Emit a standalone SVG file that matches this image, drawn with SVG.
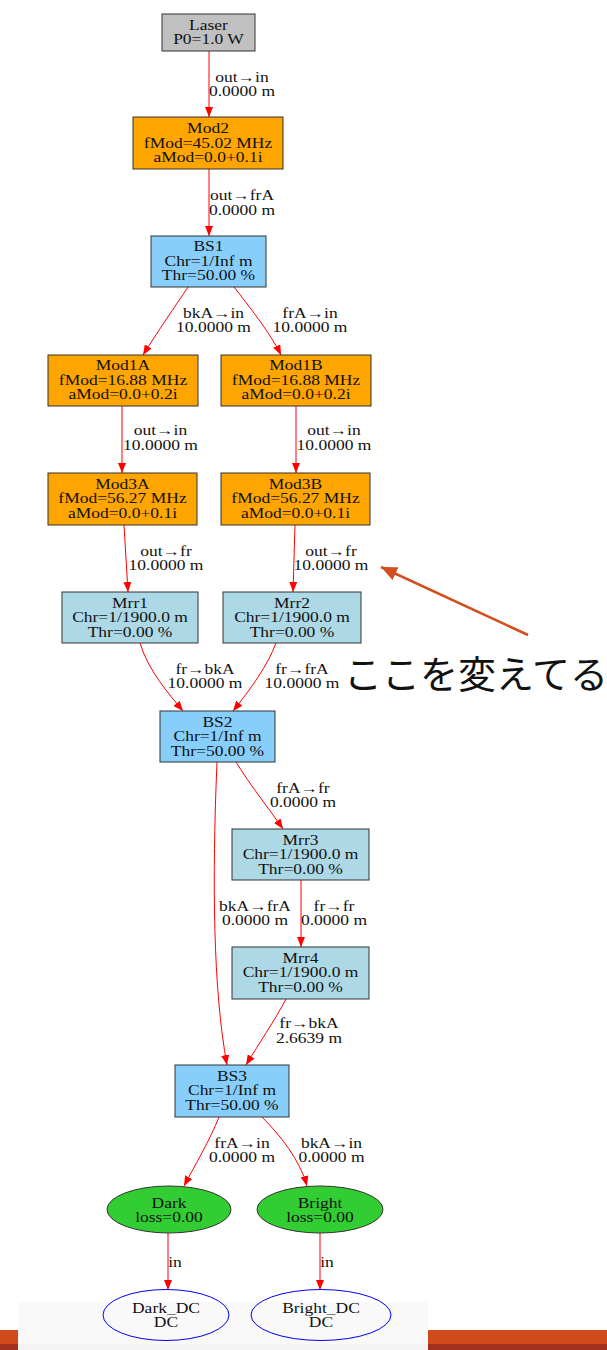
<svg xmlns="http://www.w3.org/2000/svg" width="607" height="1350" viewBox="0 0 607 1350">
<style>
.t{font-family:"Liberation Serif","Times New Roman",serif;font-size:14px;fill:#111;text-anchor:middle}
.box{stroke:#333;stroke-width:1}
.gray{fill:#c0c0c0}.orange{fill:#ffa500}.sky{fill:#87cefa}.lb{fill:#add8e6}.green{fill:#32cd32}
.edge{fill:none;stroke:#ff0000;stroke-width:1;marker-end:url(#ah)}
</style>
<defs>
<marker id="ah" viewBox="0 0 10 8" refX="10" refY="4" markerWidth="10" markerHeight="8" markerUnits="userSpaceOnUse" orient="auto"><path d="M0,0 L10,4 L0,8 z" fill="#ff0000"/></marker>
<marker id="ah2" viewBox="0 0 16 14" refX="16" refY="7" markerWidth="16" markerHeight="14" markerUnits="userSpaceOnUse" orient="auto"><path d="M0,0 L16,7 L0,14 z" fill="#d2501e"/></marker>
</defs>
<rect width="607" height="1350" fill="#ffffff"/>
<g id="slide-bar">
<rect x="0" y="1330" width="607" height="14" fill="#d14a1b"/>
<rect x="0" y="1344" width="607" height="6" fill="#a3301f"/>
<rect x="18" y="1302" width="410" height="42" fill="#f9f9f9"/>
<rect x="18" y="1344" width="410" height="6" fill="#f3f3f3"/>
</g>
<g id="connectors">
<path class="edge" d="M209,51 L209,117"/>
<path class="edge" d="M209,169 L209,236"/>
<path class="edge" d="M188,287 C176,305 156,334 143,355"/>
<path class="edge" d="M234,287 C248,305 271,334 281,355"/>
<path class="edge" d="M122,406 L122,473"/>
<path class="edge" d="M296,406 L296,473"/>
<path class="edge" d="M124,525 L128,592"/>
<path class="edge" d="M295,525 L293,592"/>
<path class="edge" d="M140,643 C148,670 168,693 183,711"/>
<path class="edge" d="M276,643 C268,665 250,690 233,711"/>
<path class="edge" d="M236,762 C250,785 270,810 283,829"/>
<path class="edge" d="M217,762 C212,880 213,990 227,1065"/>
<path class="edge" d="M301,880 L301,947"/>
<path class="edge" d="M286,999 C275,1020 258,1045 246,1065"/>
<path class="edge" d="M219,1117 C210,1140 195,1165 184,1186"/>
<path class="edge" d="M262,1117 C280,1135 300,1160 307,1186"/>
<path class="edge" d="M168,1233 L168,1290"/>
<path class="edge" d="M320,1233 L320,1290"/>
</g>
<g id="edge-labels" transform="scale(1.25,1)">
<text class="t" x="193.6" y="82">out→in</text><text class="t" x="193.6" y="96.5">0.0000 m</text>
<text class="t" x="193.6" y="200">out→frA</text><text class="t" x="193.6" y="215">0.0000 m</text>
<text class="t" x="170.8" y="318">bkA→in</text><text class="t" x="170.8" y="332">10.0000 m</text>
<text class="t" x="248" y="318">frA→in</text><text class="t" x="248" y="332">10.0000 m</text>
<text class="t" x="128.4" y="435">out→in</text><text class="t" x="128.4" y="450">10.0000 m</text>
<text class="t" x="267.2" y="435">out→in</text><text class="t" x="267.2" y="450">10.0000 m</text>
<text class="t" x="132.8" y="556">out→fr</text><text class="t" x="132.8" y="570">10.0000 m</text>
<text class="t" x="264.8" y="556">out→fr</text><text class="t" x="264.8" y="570">10.0000 m</text>
<text class="t" x="164" y="674">fr→bkA</text><text class="t" x="164" y="688">10.0000 m</text>
<text class="t" x="241.6" y="674">fr→frA</text><text class="t" x="241.6" y="688">10.0000 m</text>
<text class="t" x="242.4" y="793">frA→fr</text><text class="t" x="242.4" y="807">0.0000 m</text>
<text class="t" x="204" y="911">bkA→frA</text><text class="t" x="204" y="925">0.0000 m</text>
<text class="t" x="267.2" y="911">fr→fr</text><text class="t" x="267.2" y="925">0.0000 m</text>
<text class="t" x="247.2" y="1028">fr→bkA</text><text class="t" x="247.2" y="1043">2.6639 m</text>
<text class="t" x="193.6" y="1148">frA→in</text><text class="t" x="193.6" y="1162">0.0000 m</text>
<text class="t" x="265.2" y="1148">bkA→in</text><text class="t" x="265.2" y="1162">0.0000 m</text>
<text class="t" x="140" y="1267">in</text>
<text class="t" x="261.6" y="1267">in</text>
</g>
<g id="Laser"><rect class="box gray" x="162" y="14" width="93" height="37"/>
<g transform="scale(1.25,1)"><text class="t" x="166.8" y="30">Laser</text><text class="t" x="166.8" y="44">P0=1.0 W</text></g></g>
<g id="Mod2"><rect class="box orange" x="133" y="117" width="150" height="52"/>
<g transform="scale(1.25,1)"><text class="t" x="166.4" y="133">Mod2</text><text class="t" x="166.4" y="148">fMod=45.02 MHz</text><text class="t" x="166.4" y="162">aMod=0.0+0.1i</text></g></g>
<g id="BS1"><rect class="box sky" x="151" y="236" width="115" height="51"/>
<g transform="scale(1.25,1)"><text class="t" x="166.8" y="251.5">BS1</text><text class="t" x="166.8" y="266">Chr=1/Inf m</text><text class="t" x="166.8" y="280.5">Thr=50.00 %</text></g></g>
<g id="Mod1A"><rect class="box orange" x="48" y="355" width="150" height="51"/>
<g transform="scale(1.25,1)"><text class="t" x="98.4" y="370.5">Mod1A</text><text class="t" x="98.4" y="385">fMod=16.88 MHz</text><text class="t" x="98.4" y="399.5">aMod=0.0+0.2i</text></g></g>
<g id="Mod1B"><rect class="box orange" x="221" y="355" width="150" height="51"/>
<g transform="scale(1.25,1)"><text class="t" x="236.8" y="370.5">Mod1B</text><text class="t" x="236.8" y="385">fMod=16.88 MHz</text><text class="t" x="236.8" y="399.5">aMod=0.0+0.2i</text></g></g>
<g id="Mod3A"><rect class="box orange" x="48" y="473" width="149" height="52"/>
<g transform="scale(1.25,1)"><text class="t" x="98" y="489">Mod3A</text><text class="t" x="98" y="503.5">fMod=56.27 MHz</text><text class="t" x="98" y="518">aMod=0.0+0.1i</text></g></g>
<g id="Mod3B"><rect class="box orange" x="221" y="473" width="149" height="52"/>
<g transform="scale(1.25,1)"><text class="t" x="236.4" y="489">Mod3B</text><text class="t" x="236.4" y="503.5">fMod=56.27 MHz</text><text class="t" x="236.4" y="518">aMod=0.0+0.1i</text></g></g>
<g id="Mrr1"><rect class="box lb" x="62" y="592" width="136" height="51"/>
<g transform="scale(1.25,1)"><text class="t" x="104" y="608">Mrr1</text><text class="t" x="104" y="622.5">Chr=1/1900.0 m</text><text class="t" x="104" y="637">Thr=0.00 %</text></g></g>
<g id="Mrr2"><rect class="box lb" x="223" y="592" width="138" height="51"/>
<g transform="scale(1.25,1)"><text class="t" x="233.6" y="608">Mrr2</text><text class="t" x="233.6" y="622.5">Chr=1/1900.0 m</text><text class="t" x="233.6" y="637">Thr=0.00 %</text></g></g>
<g id="BS2"><rect class="box sky" x="160" y="711" width="115" height="51"/>
<g transform="scale(1.25,1)"><text class="t" x="174" y="727">BS2</text><text class="t" x="174" y="741.5">Chr=1/Inf m</text><text class="t" x="174" y="756">Thr=50.00 %</text></g></g>
<g id="Mrr3"><rect class="box lb" x="232" y="829" width="137" height="51"/>
<g transform="scale(1.25,1)"><text class="t" x="240.4" y="845">Mrr3</text><text class="t" x="240.4" y="859.5">Chr=1/1900.0 m</text><text class="t" x="240.4" y="874">Thr=0.00 %</text></g></g>
<g id="Mrr4"><rect class="box lb" x="232" y="947" width="137" height="52"/>
<g transform="scale(1.25,1)"><text class="t" x="240.4" y="963">Mrr4</text><text class="t" x="240.4" y="977.5">Chr=1/1900.0 m</text><text class="t" x="240.4" y="992">Thr=0.00 %</text></g></g>
<g id="BS3"><rect class="box sky" x="175" y="1065" width="114" height="52"/>
<g transform="scale(1.25,1)"><text class="t" x="185.6" y="1081">BS3</text><text class="t" x="185.6" y="1095.5">Chr=1/Inf m</text><text class="t" x="185.6" y="1110">Thr=50.00 %</text></g></g>
<g id="Dark"><ellipse class="box green" cx="169" cy="1209.5" rx="62" ry="23.5"/>
<g transform="scale(1.25,1)"><text class="t" x="135.2" y="1208">Dark</text><text class="t" x="135.2" y="1222.5">loss=0.00</text></g></g>
<g id="Bright"><ellipse class="box green" cx="320" cy="1209.5" rx="63" ry="23.5"/>
<g transform="scale(1.25,1)"><text class="t" x="256" y="1208">Bright</text><text class="t" x="256" y="1222.5">loss=0.00</text></g></g>
<g id="Dark_DC"><ellipse cx="166" cy="1315" rx="63" ry="25.5" fill="none" stroke="#0000ff" stroke-width="1"/>
<g transform="scale(1.25,1)"><text class="t" x="132.8" y="1313">Dark_DC</text><text class="t" x="132.8" y="1327">DC</text></g></g>
<g id="Bright_DC"><ellipse cx="321" cy="1315" rx="70" ry="25.5" fill="none" stroke="#0000ff" stroke-width="1"/>
<g transform="scale(1.25,1)"><text class="t" x="256.8" y="1313">Bright_DC</text><text class="t" x="256.8" y="1327">DC</text></g></g>
<g id="annotation">
<path d="M528,635 L381,567" fill="none" stroke="#d2501e" stroke-width="2.5" marker-end="url(#ah2)"/>
<text x="344" y="688" font-family="'Noto Sans CJK JP','Noto Sans CJK SC',sans-serif" font-size="38" fill="#111">ここを変えてる</text>
</g>
</svg>
